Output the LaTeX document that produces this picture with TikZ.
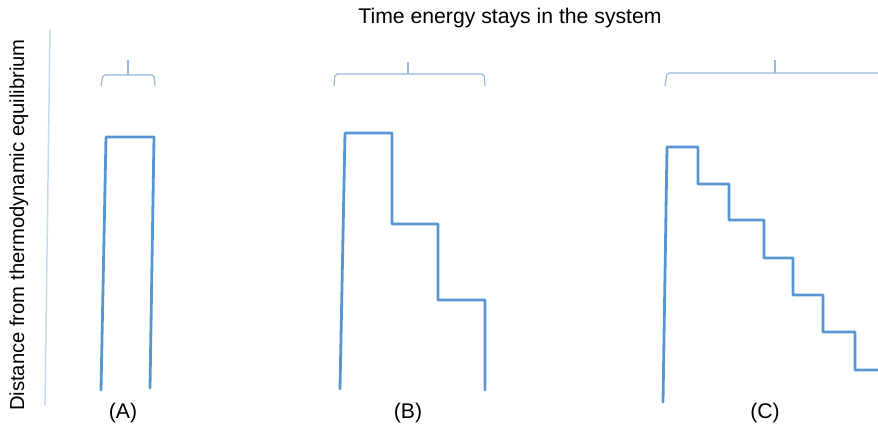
\documentclass[tikz,border=0pt]{standalone}
\usepackage{fontspec}
\setmainfont{Liberation Sans}
\definecolor{stepblue}{RGB}{86,150,210}
\definecolor{braceblue}{RGB}{150,185,225}
\definecolor{axisblue}{RGB}{195,218,240}
\tikzset{
  curve/.style={draw=stepblue, line width=2.8pt, line join=round, line cap=round},
  brace/.style={draw=braceblue, line width=1.2pt, rounded corners=2pt},
  lbl/.style={font=\fontsize{21.2}{25}\selectfont, inner sep=0pt}
}
\begin{document}
\begin{tikzpicture}[x=1pt, y=-1pt]
\useasboundingbox (0,0) rectangle (878,429);
% axis and titles
\draw[draw=axisblue, line width=1.5pt] (50,30) -- (45,405);
\node[lbl] (title) at (510,18) {Time energy stays in the system};
\node[lbl, font=\fontsize{20.2}{24}\selectfont, rotate=90] (ylab) at (19,225) {Distance from thermodynamic equilibrium};
% (A)
\draw[brace] (101,86) -- (103,75) -- (154,75) -- (155,86);
\draw[brace] (128,75) -- (128,60);
\draw[curve] (101,390) -- (106,137) -- (154,137) -- (150,388);
\node[lbl] (capA) at (123,413) {(A)};
% (B)
\draw[brace] (334,86) -- (335,74) -- (484,74) -- (485,86);
\draw[brace] (408,74) -- (408,62);
\draw[curve] (340,389) -- (345,133) -- (392,133) -- (392,224) -- (438,224)
  -- (438,300) -- (485,300) -- (485,390);
\node[lbl] (capB) at (408,413) {(B)};
% (C)
\draw[brace] (665,86) -- (667,73) -- (880,73);
\draw[brace] (775,73) -- (775,60);
\draw[curve] (663,402) -- (667,147) -- (698,147) -- (698,184) -- (729,184)
  -- (729,220) -- (764,220) -- (764,258) -- (793,258) -- (793,295)
  -- (823,295) -- (823,332) -- (855,332) -- (855,370) -- (880,370);
\node[lbl] (capC) at (765,413) {(C)};
\end{tikzpicture}
\end{document}
